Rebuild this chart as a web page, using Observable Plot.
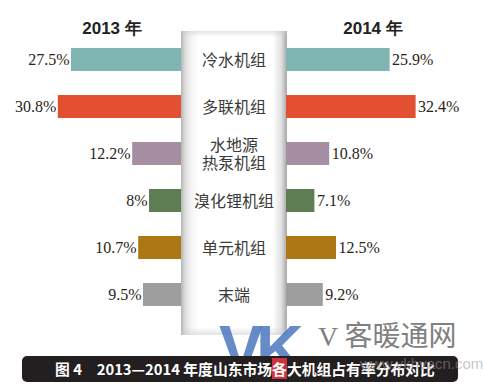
<!DOCTYPE html>
<html><head><meta charset="utf-8">
<script src="https://cdn.jsdelivr.net/npm/d3@7"></script>
<script src="https://cdn.jsdelivr.net/npm/@observablehq/plot@0.6"></script>
<style>
html,body{margin:0;padding:0;background:#fff;}
#wrap{position:relative;width:484px;height:392px;overflow:hidden;background:#fff;}
#panel{position:absolute;left:181px;top:31px;width:106px;height:304px;
 background:linear-gradient(to right,#b4b4b4 0px,#dcdcdc 4px,#f4f4f4 10px,#fff 18px,#fff 92px,#e2e2e2 100px,#a8a8a8 106px);}
#panel:after{content:"";position:absolute;left:0;right:0;top:0;bottom:0;
 background:linear-gradient(to bottom,rgba(200,200,200,0.5) 0px,rgba(255,255,255,0) 6px,rgba(255,255,255,0) 296px,rgba(200,200,200,0.5) 304px);}
#chart{position:absolute;left:0;top:0;}
#chart svg text.val{font-family:"Liberation Serif","Times New Roman",serif;}
#chart svg text.cat{font-family:"Noto Sans CJK SC",sans-serif;}
.yr{position:absolute;top:17px;font:bold 17px "Liberation Sans",Arial,sans-serif;color:#222;white-space:nowrap;transform:translateX(-50%);}
#vk{position:absolute;left:219px;top:316px;font:900 66px "Liberation Sans",Arial,sans-serif;color:rgba(75,120,190,0.85);letter-spacing:-7px;line-height:1;}
#vkt{position:absolute;left:318px;top:320px;font:28px "Noto Sans CJK SC",sans-serif;color:#808080;line-height:1;white-space:nowrap;}
#vkt .v{font-family:"Liberation Serif",serif;}
#cap{position:absolute;left:22px;top:356px;width:436px;height:26px;background:#231f20;border-radius:5px;
 color:#fff;font:bold 14.8px "Noto Sans CJK SC",sans-serif;line-height:26px;box-sizing:border-box;padding-left:33px;white-space:nowrap;}
#cap .hl{background:#d0303a;}
#vk2{position:absolute;left:219px;top:316px;font:900 66px "Liberation Sans",Arial,sans-serif;color:rgba(75,120,190,0.35);letter-spacing:-7px;line-height:1;}
#www{position:absolute;left:360px;top:355px;font:15px "Liberation Sans",sans-serif;color:rgba(150,150,150,0.55);}
</style></head>
<body>
<div id="wrap">
 <div id="panel"></div>
 <div class="yr" style="left:112px">2013 年</div>
 <div class="yr" style="left:373px">2014 年</div>
 <div id="chart"></div>
 <div id="vk">VK</div>
 <div id="vkt"><span class="v">V</span> 客暖通网</div>
 <div id="cap">图 4　2013—2014 年度山东市场<span class="hl">各</span>大机组占有率分布对比</div>
 <div id="www">www.vkhvacn.com</div>
</div>
<script>
const categories = ["冷水机组","多联机组","水地源\n热泵机组","溴化锂机组","单元机组","末端"];
const values2013 = [27.5, 30.8, 12.2, 8, 10.7, 9.5];
const values2014 = [25.9, 32.4, 10.8, 7.1, 12.5, 9.2];
const colors = ["#7fb6b1","#e24f31","#a68fa3","#5f7d52","#ad7814","#9e9e9e"];

const G = 13.125; // half of center gap, in % units
const rows13 = categories.map((c,i)=>({cat:c, v:values2013[i]}));
const rows14 = categories.map((c,i)=>({cat:c, v:values2014[i]}));

const chart = Plot.plot({
  width: 484, height: 345,
  margin: 0,
  x: {domain: [-233.5/4, 250.5/4], axis: null},
  y: {type: "band", domain: categories, range: [21.3, 331.7], padding: 0.52, axis: null},
  color: {domain: categories, range: colors},
  style: {background: "transparent", fontFamily: "'Liberation Serif', serif"},
  marks: [
    Plot.barX(rows13, {x1: d => -G - d.v, x2: d => -G, y: "cat", fill: "cat"}),
    Plot.barX(rows14, {x1: d => G, x2: d => G + d.v, y: "cat", fill: "cat"}),
    Plot.text(rows13, {x: d => -G - d.v, y: "cat", text: d => d.v + "%", textAnchor: "end", dx: -2,
      fontSize: 16, fill: "#2a2418"}),
    Plot.text(rows14, {x: d => G + d.v, y: "cat", text: d => d.v + "%", textAnchor: "start", dx: 2,
      fontSize: 16, fill: "#2a2418"}),
    Plot.text(categories, {x: () => 0, y: d => d, text: d => d, fontSize: 16, lineHeight: 1.18,
      fill: "#3a3a3a"})
  ]
});
d3.select(chart).selectAll("g[aria-label=text]").each(function(_, i){
  d3.select(this).selectAll("text").attr("class", i < 2 ? "val" : "cat");
});
document.getElementById("chart").appendChild(chart);
</script>
</body></html>
